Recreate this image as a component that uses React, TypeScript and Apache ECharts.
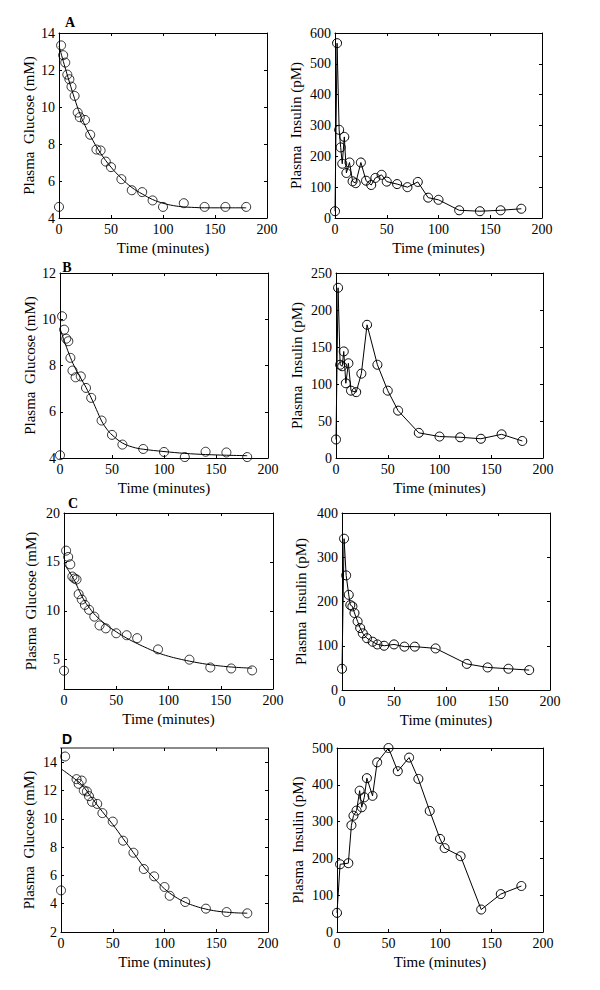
import React, { useEffect, useRef } from "react";
import * as echarts from "echarts";

// ---------- Data ----------
// Panel A
const aGluT = [0, 2, 4, 6, 8, 10, 12, 15, 18, 20, 25, 30, 36, 40, 45, 50, 60, 70, 80, 90, 100, 120, 140, 160, 180];
const aGluV = [4.6, 13.33, 12.8, 12.4, 11.75, 11.5, 11.1, 10.6, 9.7, 9.45, 9.3, 8.5, 7.7, 7.65, 7.05, 6.75, 6.1, 5.5, 5.4, 4.95, 4.6, 4.8, 4.6, 4.6, 4.6];
const aFitT = [0, 5, 10, 15, 20, 25, 30, 40, 50, 60, 70, 80, 90, 100, 110, 120, 130, 140, 160, 180];
const aFitV = [13.3, 12.3, 11.35, 10.45, 9.65, 9.0, 8.45, 7.5, 6.75, 6.15, 5.65, 5.3, 5.0, 4.8, 4.67, 4.6, 4.57, 4.55, 4.55, 4.55];
const aInsT = [0, 2, 4, 5.5, 7, 9, 11, 14, 17, 20, 25, 30, 35, 39, 45, 50, 60, 70, 80, 90, 100, 120, 140, 160, 180];
const aInsV = [22, 567, 286, 229, 176, 263, 146, 180, 119, 113, 180, 121, 107, 130, 140, 118, 110, 100, 117, 66, 59, 25, 22, 25, 30];

// Panel B
const bGluT = [0, 2, 4, 6, 8, 10, 12, 15, 20, 25, 30, 40, 50, 60, 80, 100, 120, 140, 160, 180];
const bGluV = [4.12, 10.13, 9.55, 9.16, 9.05, 8.33, 7.78, 7.49, 7.53, 7.03, 6.6, 5.62, 5.0, 4.58, 4.39, 4.26, 4.04, 4.27, 4.24, 4.04];
const bFitT = [0, 5, 10, 15, 20, 25, 30, 35, 40, 45, 50, 60, 70, 80, 100, 120, 140, 160, 180];
const bFitV = [9.6, 8.95, 8.35, 7.85, 7.45, 7.05, 6.6, 6.1, 5.6, 5.25, 5.0, 4.65, 4.47, 4.38, 4.28, 4.2, 4.15, 4.12, 4.1];
const bInsT = [0, 2, 4, 6, 7.5, 9.5, 12, 14.5, 19.5, 24.5, 30, 40, 50, 60, 80, 100, 120, 140, 160, 180];
const bInsV = [25, 230, 126, 124, 144, 101, 128, 91, 89, 114, 180, 126, 91, 64, 34, 29, 28, 26, 32, 23];

// Panel C
const cGluT = [0, 2, 4, 6, 8, 10, 12, 14, 17, 20, 24, 29, 34, 40, 50, 60, 70, 90, 120, 140, 160, 180];
const cGluV = [3.87, 16.15, 15.5, 14.75, 13.5, 13.3, 13.2, 11.7, 11.15, 10.6, 10.1, 9.4, 8.5, 8.2, 7.7, 7.5, 7.2, 6.05, 5.0, 4.2, 4.1, 3.9];
const cFitT = [0, 5, 10, 15, 20, 25, 30, 40, 50, 60, 70, 80, 90, 100, 110, 120, 130, 140, 150, 160, 170, 180];
const cFitV = [14.8, 14.0, 13.1, 11.95, 10.95, 10.2, 9.55, 8.6, 7.85, 7.2, 6.65, 6.15, 5.7, 5.35, 5.08, 4.85, 4.65, 4.48, 4.35, 4.25, 4.18, 4.13];
const cInsT = [0, 2, 4, 6.5, 8, 10, 12, 15, 17.5, 20, 24, 29.5, 34, 40.5, 50, 60, 70, 90, 120, 140, 160, 180];
const cInsV = [48, 342, 259, 215, 192, 189, 174, 155, 140, 128, 117, 109, 103, 100, 103, 98, 98, 94, 59, 51, 48, 45];

// Panel D
const dGluT = [0, 4, 15, 17, 20, 22, 25, 27, 30, 35, 40, 50, 60, 70, 80, 90, 100, 105, 120, 140, 160, 180];
const dGluV = [4.94, 14.4, 12.8, 12.47, 12.7, 12.0, 11.93, 11.6, 11.2, 11.05, 10.4, 9.8, 8.45, 7.6, 6.45, 5.93, 5.18, 4.56, 4.12, 3.65, 3.41, 3.32];
const dFitT = [0, 10, 20, 30, 40, 50, 60, 70, 80, 90, 100, 110, 120, 130, 140, 150, 160, 170, 180];
const dFitV = [13.53, 13.0, 12.4, 11.45, 10.5, 9.6, 8.6, 7.6, 6.6, 5.8, 5.05, 4.5, 4.1, 3.82, 3.62, 3.48, 3.4, 3.35, 3.33];
const dInsT = [0, 3, 11, 14, 16, 19, 22, 24, 26.5, 29, 34.5, 39, 50, 59, 70, 79, 90, 100, 104.5, 120, 140, 159, 179];
const dInsV = [52, 184, 187, 290, 316, 330, 384, 339, 366, 418, 370, 461, 500, 437, 474, 416, 329, 253, 228, 206, 61, 103, 125];

// Axis ticks
const xTicks = [0, 50, 100, 150, 200];
const gluTicksA = [4, 6, 8, 10, 12, 14];
const gluTicksB = [4, 6, 8, 10, 12];
const gluTicksC = [5, 10, 15, 20];
const gluTicksD = [2, 4, 6, 8, 10, 12, 14];
const insTicksA = [0, 100, 200, 300, 400, 500, 600];
const insTicksB = [0, 50, 100, 150, 200, 250];
const insTicksC = [0, 100, 200, 300, 400];
const insTicksD = [0, 100, 200, 300, 400, 500];

const panelLetters = ["A", "B", "C", "D"];
const xName = "Time (minutes)";
const gluName = "Plasma  Glucose (mM)";
const insName = "Plasma  Insulin (pM)";

const zip = (t: number[], v: number[]) => t.map((x, i) => [x, v[i]]);

const SERIF = "'Liberation Serif', 'Times New Roman', serif";
const SANS = "'Liberation Sans', Arial, sans-serif";

export default function App() {
  const ref = useRef<HTMLDivElement>(null);
  useEffect(() => {
    if (!ref.current) return;
    const chart = echarts.init(ref.current, null, { renderer: "svg" });

    type Panel = {
      grid: { left: number; top: number; width: number; height: number };
      ymin: number;
      ymax: number;
      yTicks: number[];
      yName: string;
      yGap: number;
      topGray?: boolean;
      kind: "glu" | "ins";
      t: number[];
      v: number[];
      ft?: number[];
      fv?: number[];
    };

    const panels: Panel[] = [
      { grid: { left: 59, top: 33, width: 208, height: 185 }, ymin: 4, ymax: 14, yTicks: gluTicksA, yName: gluName, yGap: 23, kind: "glu", t: aGluT, v: aGluV, ft: aFitT, fv: aFitV },
      { grid: { left: 335, top: 33, width: 207, height: 185 }, ymin: 0, ymax: 600, yTicks: insTicksA, yName: insName, yGap: 32, kind: "ins", t: aInsT, v: aInsV },
      { grid: { left: 60, top: 273, width: 208, height: 185 }, ymin: 4, ymax: 12, yTicks: gluTicksB, yName: gluName, yGap: 23, kind: "glu", t: bGluT, v: bGluV, ft: bFitT, fv: bFitV },
      { grid: { left: 336, top: 273, width: 207, height: 185 }, ymin: 0, ymax: 250, yTicks: insTicksB, yName: insName, yGap: 32, kind: "ins", t: bInsT, v: bInsV },
      { grid: { left: 64, top: 513, width: 209, height: 176 }, ymin: 2, ymax: 20, yTicks: gluTicksC, yName: gluName, yGap: 26, kind: "glu", t: cGluT, v: cGluV, ft: cFitT, fv: cFitV },
      { grid: { left: 342, top: 513, width: 208, height: 177 }, ymin: 0, ymax: 400, yTicks: insTicksC, yName: insName, yGap: 34, kind: "ins", t: cInsT, v: cInsV },
      { grid: { left: 61, top: 748, width: 207, height: 184 }, ymin: 2, ymax: 15, yTicks: gluTicksD, yName: gluName, yGap: 25, topGray: true, kind: "glu", t: dGluT, v: dGluV, ft: dFitT, fv: dFitV },
      { grid: { left: 337, top: 748, width: 206, height: 184 }, ymin: 0, ymax: 500, yTicks: insTicksD, yName: insName, yGap: 32, kind: "ins", t: dInsT, v: dInsV },
    ];

    const grids: any[] = [];
    const xAxes: any[] = [];
    const yAxes: any[] = [];
    const series: any[] = [];

    const labelStyle = { color: "#000", fontFamily: SERIF, fontSize: 14 };
    const nameStyle = { color: "#000", fontFamily: SERIF, fontSize: 15 };
    const black = { color: "#000", width: 1 };

    panels.forEach((p, i) => {
      grids.push({ ...p.grid, containLabel: false });
      const xb = xAxes.length;
      xAxes.push({
        type: "value", gridIndex: i, position: "bottom", min: 0, max: 200, interval: 50,
        name: xName, nameLocation: "middle", nameGap: 22, nameTextStyle: nameStyle,
        axisLine: { show: true, onZero: false, lineStyle: black },
        axisTick: { show: true, inside: true, length: 3, lineStyle: black },
        axisLabel: { ...labelStyle, margin: 4, customValues: xTicks },
        splitLine: { show: false },
      });
      xAxes.push({
        type: "value", gridIndex: i, position: "top", min: 0, max: 200, interval: 50,
        axisLine: { show: true, onZero: false, lineStyle: p.topGray ? { color: "#8a8a8a", width: 2 } : black },
        axisTick: { show: true, inside: true, length: 3, lineStyle: black },
        axisLabel: { show: false },
        splitLine: { show: false },
      });
      const yl = yAxes.length;
      yAxes.push({
        type: "value", gridIndex: i, position: "left", min: p.ymin, max: p.ymax,
        name: p.yName, nameLocation: "middle", nameGap: p.yGap, nameTextStyle: nameStyle,
        axisLine: { show: true, onZero: false, lineStyle: black },
        axisTick: { show: true, inside: true, length: 3, lineStyle: black, customValues: p.yTicks },
        axisLabel: { ...labelStyle, margin: 4, customValues: p.yTicks },
        splitLine: { show: false },
      });
      yAxes.push({
        type: "value", gridIndex: i, position: "right", min: p.ymin, max: p.ymax,
        axisLine: { show: true, onZero: false, lineStyle: black },
        axisTick: { show: true, inside: true, length: 3, lineStyle: black, customValues: p.yTicks },
        axisLabel: { show: false },
        splitLine: { show: false },
      });

      const hollow = { color: "rgba(0,0,0,0)", borderColor: "#000", borderWidth: 1 };
      if (p.kind === "glu") {
        series.push({
          type: "line", xAxisIndex: xb, yAxisIndex: yl, data: zip(p.ft!, p.fv!),
          smooth: 0.4, showSymbol: false, lineStyle: black, clip: false, silent: true, z: 2,
        });
        series.push({
          type: "scatter", xAxisIndex: xb, yAxisIndex: yl, data: zip(p.t, p.v),
          symbol: "circle", symbolSize: 9, itemStyle: hollow, clip: false, z: 3,
        });
      } else {
        series.push({
          type: "line", xAxisIndex: xb, yAxisIndex: yl, data: zip(p.t, p.v),
          symbol: "circle", symbolSize: 9, showSymbol: true, showAllSymbol: true,
          itemStyle: hollow, lineStyle: black, clip: false, z: 3,
        });
      }
    });

    const letterPos = [
      { x: 70, y: 22, sans: false },
      { x: 67, y: 267, sans: false },
      { x: 73, y: 503, sans: false },
      { x: 67, y: 739, sans: true },
    ];
    const graphic = panelLetters.map((L, i) => ({
      type: "text",
      x: letterPos[i].x,
      y: letterPos[i].y,
      style: {
        text: L,
        fill: "#000",
        font: `bold 14px ${letterPos[i].sans ? SANS : SERIF}`,
        align: "center",
        verticalAlign: "middle",
      },
    }));

    chart.setOption({
      animation: false,
      backgroundColor: "#fff",
      textStyle: { fontFamily: SERIF, color: "#000" },
      grid: grids,
      xAxis: xAxes,
      yAxis: yAxes,
      series,
      graphic,
    });
    return () => chart.dispose();
  }, []);

  return (
    <div
      ref={ref}
      style={{ position: "absolute", left: 0, top: 0, width: 600, height: 990 }}
    />
  );
}
